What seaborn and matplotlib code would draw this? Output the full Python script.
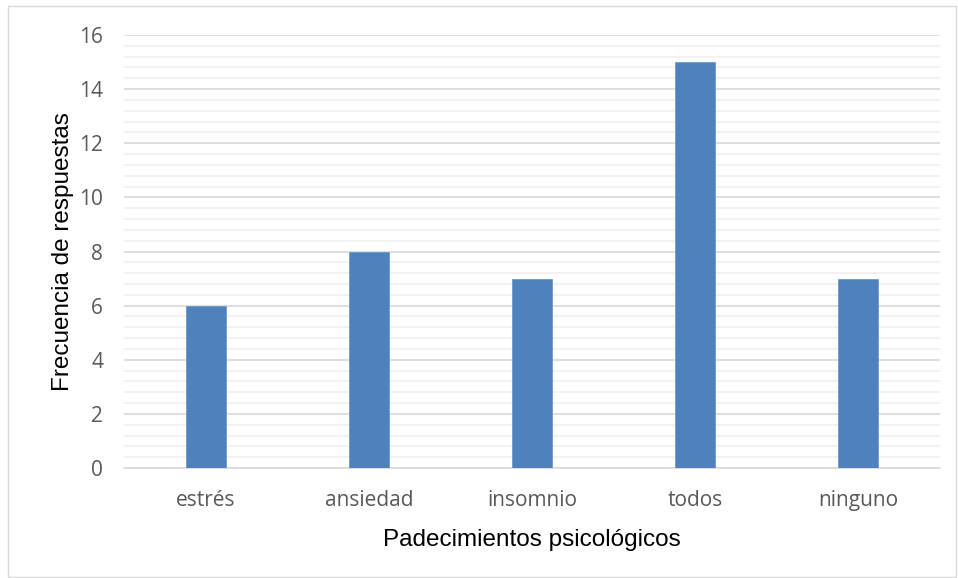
import matplotlib
matplotlib.use("Agg")
import matplotlib.pyplot as plt
from matplotlib.patches import Rectangle
from matplotlib.ticker import MultipleLocator
import seaborn as sns
import pandas as pd

categorias = ["estrés", "ansiedad", "insomnio", "todos", "ninguno"]
frecuencias = [6, 8, 7, 15, 7]
y_ticks = [0, 2, 4, 6, 8, 10, 12, 14, 16]

df = pd.DataFrame({"categoria": categorias, "frecuencia": frecuencias})

sns.set_theme(style="white")
plt.rcParams["font.family"] = ["Liberation Sans", "DejaVu Sans"]

fig = plt.figure(figsize=(9.58, 5.78), dpi=100)
ax = fig.add_axes([124 / 958, 1 - 468 / 578, (940 - 124) / 958, (468 - 35) / 578])

sns.barplot(data=df, x="categoria", y="frecuencia", color="#4F81BD",
            width=0.245, saturation=1, ax=ax, zorder=3,
            edgecolor="#6F9AD0", linewidth=0.6)

ax.set_ylim(0, 16)
ax.set_yticks(y_ticks)
ax.yaxis.set_minor_locator(MultipleLocator(0.4))
ax.grid(which="major", axis="y", color="#D9D9D9", linewidth=1.2, zorder=0)
ax.grid(which="minor", axis="y", color="#F0F0F0", linewidth=1.2, zorder=0)
ax.grid(False, axis="x")
ax.set_axisbelow(True)

for s in ["top", "right", "left"]:
    ax.spines[s].set_visible(False)
ax.spines["bottom"].set_color("#D9D9D9")
ax.spines["bottom"].set_linewidth(1.2)

ax.tick_params(axis="both", which="both", length=0)
ax.tick_params(axis="y", pad=15, labelsize=15, labelcolor="#595959")
ax.tick_params(axis="x", pad=16, labelsize=15, labelcolor="#595959")
for lab in ax.get_xticklabels() + ax.get_yticklabels():
    lab.set_fontfamily(["Open Sans", "DejaVu Sans"])

ax.set_xlabel("Padecimientos psicológicos", fontsize=17.5, color="black", labelpad=13)
ax.set_ylabel("Frecuencia de respuestas", fontsize=17.5, color="black", labelpad=4)

fig.patches.append(Rectangle((8 / 958, 1 / 578), (956 - 8) / 958, (572 - 1) / 578,
                             transform=fig.transFigure, fill=False,
                             edgecolor="#D9D9D9", linewidth=1.0))

fig.savefig("out.png", dpi=100)
